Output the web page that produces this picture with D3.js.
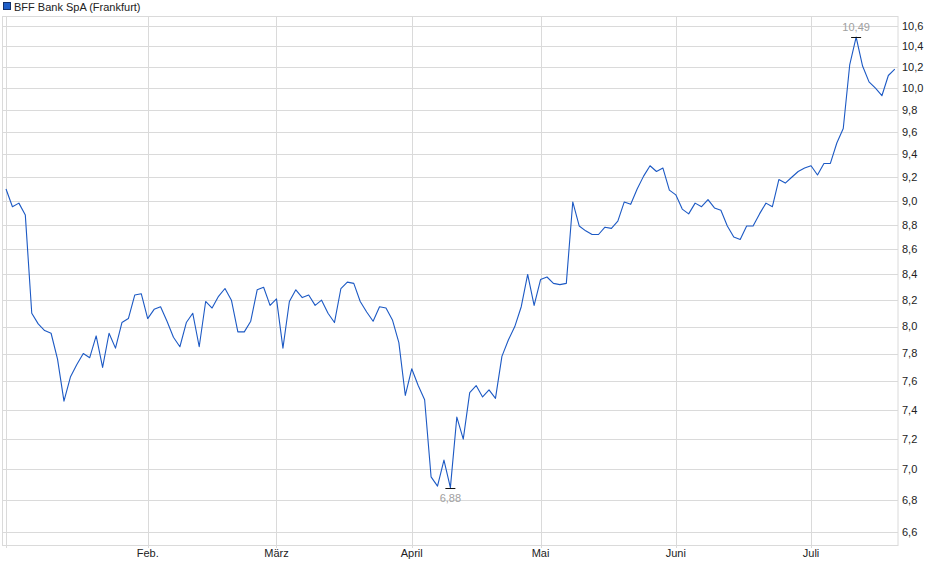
<!DOCTYPE html>
<html>
<head>
<meta charset="utf-8">
<script src="https://cdn.jsdelivr.net/npm/d3@7"></script>
<style>
  html, body { margin: 0; padding: 0; background: #fff; }
  svg { display: block; font-family: "Liberation Sans", Arial, sans-serif; }
</style>
</head>
<body>
<svg id="chart" width="940" height="579"></svg>
<script>
// ---- data ----
const seriesName = "BFF Bank SpA (Frankfurt)";
// daily closing prices (trading days, 2 Jan .. 18 Jul)
const prices = [
  9.10, 8.95, 8.98, 8.88, 8.10, 8.02, 7.97, 7.95, 7.76, 7.46,
  7.63, 7.72, 7.80, 7.77, 7.93, 7.70, 7.95, 7.84, 8.03, 8.06,
  8.24, 8.25, 8.06, 8.13, 8.15, 8.04, 7.92, 7.85, 8.03, 8.10,
  7.85, 8.19, 8.14, 8.23, 8.29, 8.20, 7.96, 7.96, 8.04, 8.28,
  8.30, 8.16, 8.21, 7.84, 8.19, 8.28, 8.22, 8.24, 8.16, 8.20,
  8.10, 8.03, 8.29, 8.34, 8.33, 8.19, 8.11, 8.04, 8.15, 8.14,
  8.05, 7.88, 7.50, 7.69, 7.57, 7.47, 6.95, 6.89, 7.06, 6.88,
  7.35, 7.20, 7.52, 7.57, 7.49, 7.54, 7.48, 7.78, 7.90, 8.00,
  8.15, 8.40, 8.16, 8.36, 8.38, 8.33, 8.32, 8.33, 8.99, 8.79,
  8.75, 8.72, 8.72, 8.78, 8.77, 8.83, 8.99, 8.97, 9.10, 9.21,
  9.30, 9.25, 9.28, 9.09, 9.05, 8.93, 8.89, 8.98, 8.95, 9.01,
  8.94, 8.92, 8.79, 8.70, 8.68, 8.79, 8.79, 8.89, 8.98, 8.95,
  9.18, 9.15, 9.20, 9.25, 9.28, 9.30, 9.22, 9.32, 9.32, 9.50,
  9.63, 10.22, 10.49, 10.21, 10.06, 10.00, 9.93, 10.12, 10.18
];
// month starts (trading-day index) and their labels
const monthIndex  = [0, 22, 42, 63, 83, 104, 125];
const monthLabels = ["", "Feb.", "März", "April", "Mai", "Juni", "Juli"];
// y-axis ticks
const yTicks = [6.6, 6.8, 7.0, 7.2, 7.4, 7.6, 7.8, 8.0, 8.2, 8.4, 8.6, 8.8, 9.0, 9.2, 9.4, 9.6, 9.8, 10.0, 10.2, 10.4, 10.6];

// ---- layout ----
const plot = { left: 3, right: 898, top: 16, bottom: 545 };
const gridColor = "#dadada";
const lineColor = "#1c59c4";

const svg = d3.select("#chart");

const x = d3.scaleLinear().domain([0, 138.5]).range([6, plot.right]);
const y = d3.scaleLog().domain([6.6, 10.6]).range([532, 26]);

const fmt = v => d3.format(".1f")(v).replace(".", ",");
const fmt2 = v => d3.format(".2f")(v).replace(".", ",");

// horizontal grid
svg.append("g")
  .selectAll("line")
  .data(yTicks)
  .join("line")
  .attr("x1", plot.left)
  .attr("x2", plot.right)
  .attr("y1", d => Math.round(y(d)) + 0.5)
  .attr("y2", d => Math.round(y(d)) + 0.5)
  .attr("stroke", gridColor)
  .attr("stroke-width", 1);

// vertical grid at month starts
svg.append("g")
  .selectAll("line")
  .data(monthIndex)
  .join("line")
  .attr("x1", d => Math.round(x(d)) + 0.5)
  .attr("x2", d => Math.round(x(d)) + 0.5)
  .attr("y1", plot.top)
  .attr("y2", plot.bottom + 3)
  .attr("stroke", gridColor)
  .attr("stroke-width", 1);

// plot frame
svg.append("rect")
  .attr("x", plot.left - 0.5)
  .attr("y", plot.top + 0.5)
  .attr("width", plot.right - plot.left + 0.5)
  .attr("height", plot.bottom - plot.top)
  .attr("fill", "none")
  .attr("stroke", gridColor)
  .attr("stroke-width", 1);

// y labels (right)
svg.append("g")
  .selectAll("text")
  .data(yTicks)
  .join("text")
  .attr("x", plot.right + 4)
  .attr("y", d => y(d))
  .attr("dy", "0.35em")
  .attr("font-size", 11)
  .attr("fill", "#222")
  .text(d => fmt(d));

// x labels
svg.append("g")
  .selectAll("text")
  .data(monthIndex.map((d, i) => ({ i: d, label: monthLabels[i] })).filter(d => d.label))
  .join("text")
  .attr("x", d => x(d.i))
  .attr("y", plot.bottom + 12)
  .attr("text-anchor", "middle")
  .attr("font-size", 11)
  .attr("fill", "#222")
  .text(d => d.label);

// price line
const line = d3.line()
  .x((d, i) => x(i))
  .y(d => y(d));

svg.append("path")
  .datum(prices)
  .attr("d", line)
  .attr("fill", "none")
  .attr("stroke", lineColor)
  .attr("stroke-width", 1.1)
  .attr("stroke-linejoin", "round");

// high / low markers
const maxV = d3.max(prices), minV = d3.min(prices);
const maxI = prices.indexOf(maxV), minI = prices.indexOf(minV);

const marks = [
  { i: maxI, v: maxV, dy: -6 },
  { i: minI, v: minV, dy: 14 }
];
const mg = svg.append("g");
mg.selectAll("line")
  .data(marks)
  .join("line")
  .attr("x1", d => x(d.i) - 5)
  .attr("x2", d => x(d.i) + 5)
  .attr("y1", d => Math.round(y(d.v)) + 0.5)
  .attr("y2", d => Math.round(y(d.v)) + 0.5)
  .attr("stroke", "#111")
  .attr("stroke-width", 1);
mg.selectAll("text")
  .data(marks)
  .join("text")
  .attr("x", d => x(d.i))
  .attr("y", d => y(d.v) + d.dy)
  .attr("text-anchor", "middle")
  .attr("font-size", 11)
  .attr("fill", "#a0a0a0")
  .text(d => fmt2(d.v));

// legend
const lg = svg.append("g");
lg.append("rect")
  .attr("x", 3.5).attr("y", 2.5).attr("width", 7).attr("height", 7)
  .attr("fill", "#1f5fc8").attr("stroke", "#13306a").attr("stroke-width", 1);
lg.append("text")
  .attr("x", 14).attr("y", 10.5)
  .attr("font-size", 11)
  .attr("fill", "#222")
  .text(seriesName);
</script>
</body>
</html>
